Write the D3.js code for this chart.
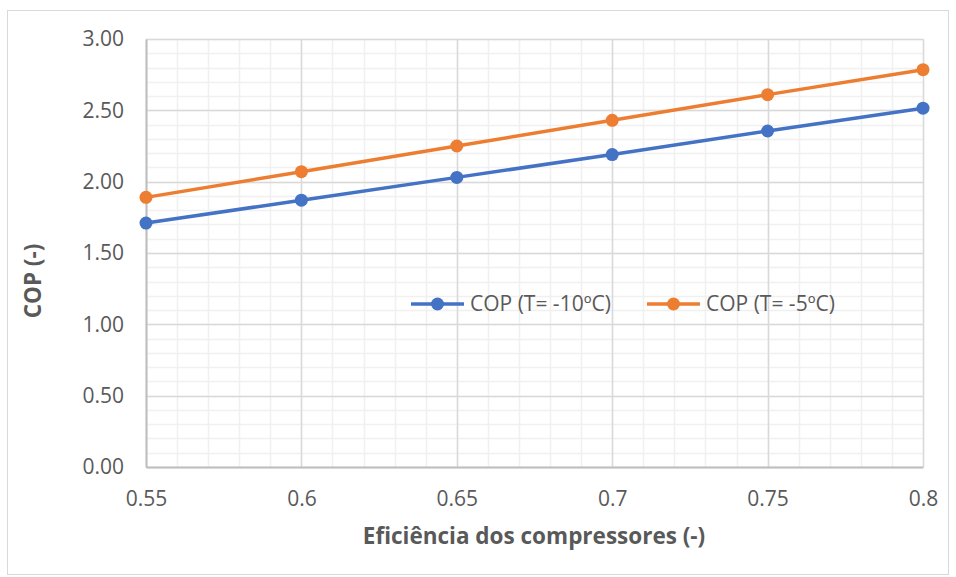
<!DOCTYPE html>
<html>
<head>
<meta charset="utf-8">
<script src="https://cdn.jsdelivr.net/npm/d3@7"></script>
<style>
  body { margin: 0; background: #fff; }
  svg text { font-family: "Open Sans", "Liberation Sans", sans-serif; fill: #595959; }
</style>
</head>
<body>
<svg id="chart" width="956" height="577"></svg>
<script>
// Compressor efficiency (x) and COP for two evaporating temperatures
const efficiency = [0.55, 0.6, 0.65, 0.7, 0.75, 0.8];
const copMinus10 = [1.71, 1.87, 2.03, 2.19, 2.355, 2.515];
const copMinus5 = [1.89, 2.07, 2.25, 2.43, 2.61, 2.785];
const seriesNames = ["COP (T= -10ºC)", "COP (T= -5ºC)"];
const seriesColors = ["#4472C4", "#ED7D31"];
const xTickLabels = ["0.55", "0.6", "0.65", "0.7", "0.75", "0.8"];
const yTicks = [0, 0.5, 1, 1.5, 2, 2.5, 3];

const svg = d3.select("#chart");
const margin = { left: 146, right: 33, top: 39, bottom: 110 };
const W = 956, H = 577;

// outer chart frame
svg.append("rect").attr("x", 7.5).attr("y", 10.5).attr("width", 941).attr("height", 564)
  .attr("fill", "#fff").attr("stroke", "#d9d9d9").attr("stroke-width", 1);

const x = d3.scaleLinear().domain([0.55, 0.8]).range([margin.left, W - margin.right]);
const y = d3.scaleLinear().domain([0, 3]).range([H - margin.bottom, margin.top]);

// minor gridlines
const xMinor = d3.range(0, 26).map(i => 0.55 + i * 0.01);
const yMinor = d3.range(0, 31).map(i => i * 0.1);
const g = svg.append("g");
g.selectAll(".xminor").data(xMinor).join("line")
  .attr("x1", d => Math.round(x(d)) + 0.5).attr("x2", d => Math.round(x(d)) + 0.5)
  .attr("y1", y(0)).attr("y2", y(3))
  .attr("stroke", "#f0f0f0").attr("stroke-width", 1.5);
g.selectAll(".yminor").data(yMinor).join("line")
  .attr("y1", d => Math.round(y(d)) + 0.5).attr("y2", d => Math.round(y(d)) + 0.5)
  .attr("x1", x(0.55)).attr("x2", x(0.8))
  .attr("stroke", "#f0f0f0").attr("stroke-width", 1.5);

// major gridlines
g.selectAll(".xmajor").data(efficiency).join("line")
  .attr("x1", d => Math.round(x(d)) + 0.5).attr("x2", d => Math.round(x(d)) + 0.5)
  .attr("y1", y(0)).attr("y2", y(3))
  .attr("stroke", "#d9d9d9").attr("stroke-width", 1.5);
g.selectAll(".ymajor").data(yTicks).join("line")
  .attr("y1", d => Math.round(y(d)) + 0.5).attr("y2", d => Math.round(y(d)) + 0.5)
  .attr("x1", x(0.55)).attr("x2", x(0.8))
  .attr("stroke", "#d9d9d9").attr("stroke-width", 1.5);

// axes
const xAxis = d3.axisBottom(x).tickValues(efficiency).tickFormat((d, i) => xTickLabels[i]).tickSize(0).tickPadding(24);
const yAxis = d3.axisLeft(y).tickValues(yTicks).tickFormat(d3.format(".2f")).tickSize(0).tickPadding(22);
const gx = svg.append("g").attr("transform", `translate(0,${y(0)})`).call(xAxis);
const gy = svg.append("g").attr("transform", `translate(${x(0.55)},0)`).call(yAxis);
[gx, gy].forEach(a => {
  a.select(".domain").attr("stroke", "#bfbfbf").attr("stroke-width", 2);
  a.selectAll("text").style("font-size", "21px").attr("fill", "#595959")
    .style("font-family", "'Open Sans', sans-serif");
});

// axis titles
svg.append("text").attr("x", 534).attr("y", 544)
  .attr("text-anchor", "middle").style("font-size", "22.5px").style("font-weight", "bold")
  .text("Eficiência dos compressores (-)");
svg.append("text").attr("transform", `translate(41,${(y(0) + y(3)) / 2 + 28}) rotate(-90)`)
  .attr("text-anchor", "middle").style("font-size", "22.5px").style("font-weight", "bold")
  .text("COP (-)");

// series
const series = [copMinus10, copMinus5];
const line = d3.line().x((d, i) => x(efficiency[i])).y(d => y(d));
series.forEach((vals, s) => {
  svg.append("path").datum(vals).attr("d", line)
    .attr("fill", "none").attr("stroke", seriesColors[s]).attr("stroke-width", 3.5)
    .attr("stroke-linejoin", "round");
  svg.selectAll(".pt" + s).data(vals).join("circle")
    .attr("cx", (d, i) => x(efficiency[i])).attr("cy", d => y(d)).attr("r", 6.5)
    .attr("fill", seriesColors[s]);
});

// legend
const legendX = [411, 647];
const legendY = 304;
seriesNames.forEach((name, s) => {
  const lg = svg.append("g").attr("transform", `translate(${legendX[s]},${legendY})`);
  lg.append("line").attr("x1", 0).attr("x2", 53).attr("y1", 0).attr("y2", 0)
    .attr("stroke", seriesColors[s]).attr("stroke-width", 3.5);
  lg.append("circle").attr("cx", 26.5).attr("cy", 0).attr("r", 6.5).attr("fill", seriesColors[s]);
  lg.append("text").attr("x", 59).attr("y", 0).attr("dy", "0.35em")
    .style("font-size", "21px").text(name);
});
</script>
</body>
</html>
